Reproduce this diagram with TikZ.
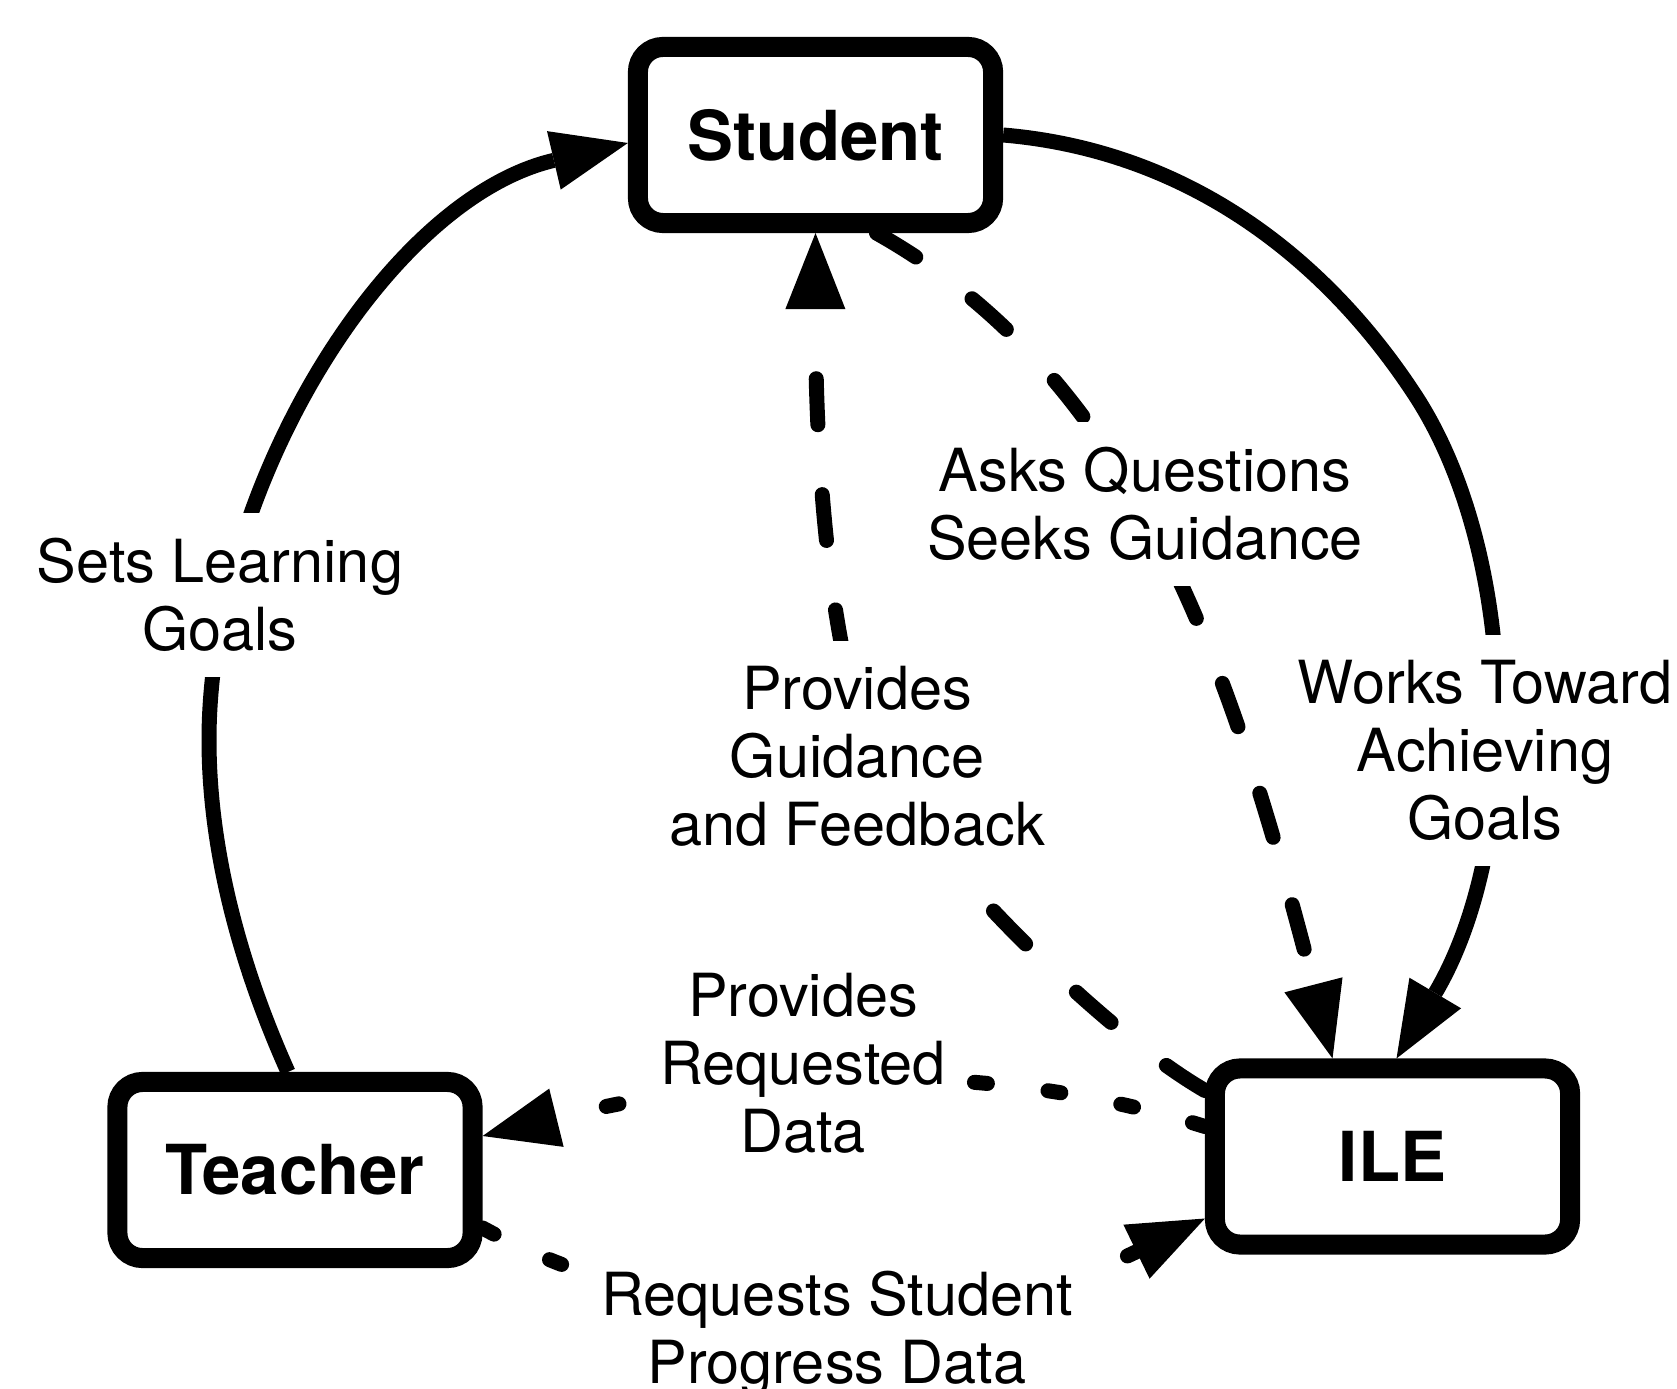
\documentclass[tikz,border=0pt]{standalone}
\usepackage{fontspec}
\setmainfont{TeX Gyre Heros}
\usetikzlibrary{arrows.meta,calc}
\begin{document}
\begin{tikzpicture}[x=0.01cm,y=-0.01cm,
  box/.style={draw, line width=0.2cm, rounded corners=0.25cm, minimum width=3.55cm, minimum height=1.76cm, inner sep=0pt, outer sep=0.1cm, fill=white, font=\bfseries\fontsize{19.6}{22}\selectfont},
  lbl/.style={fill=white, align=center, inner xsep=0.08cm, inner ysep=0.25cm, font=\fontsize{16.9}{19.35}\selectfont},
  tipstyle/.style={-{Triangle[length=0.76cm,width=0.6cm,line width=0pt]}},
  conn/.style={line width=0.15cm, tipstyle},
  dashconn/.style={conn, line cap=round, dash pattern=on 0.46cm off 0.70cm},
  dotconn/.style={conn, line cap=round, dash pattern=on 0.13cm off 0.61cm}]
\useasboundingbox (0,0) rectangle (1677,1389);

% boxes
\node[box] (student) at (815.5,135) {Student};
\node[box] (teacher) at (295,1170) {Teacher};
\node[box] (ile) at (1392.5,1156.5) {ILE};

% Teacher -> Student (Sets Learning Goals)
\draw[conn] ($(teacher.north)+(-7,0)$) .. controls (240,965) and (209,850) .. (209,740)
  .. controls (209,490) and (385,200) .. ($(student.west)+(0,8)$);

% Student -> ILE (Works Toward Achieving Goals)
\draw[conn] (student.east) .. controls (1180,150) and (1320,250) .. (1415,395)
  .. controls (1519,554) and (1524,843) .. ($(ile.north)+(4,0)$);

% ILE -> Student (Provides Guidance and Feedback)
\draw[dashconn] ($(ile.west)+(0,-66)$) .. controls (1094,1026) and (931,856) .. (880,770)
  .. controls (850,720) and (815,560) .. (student.south);

% Student -> ILE (Asks Questions Seeks Guidance)
\draw[dashconn] ($(student.south)+(61,0)$) .. controls (1138,380) and (1232,670) .. ($(ile.north)+(-60,0)$);

% ILE -> Teacher (Provides Requested Data)
\draw[dotconn] ($(ile.west)+(0,-30)$) .. controls (967,1052) and (725,1076) .. ($(teacher.east)+(0,-34)$);

% Teacher -> ILE (Requests Student Progress Data)
\draw[dotconn] ($(teacher.east)+(0,58)$) .. controls (702,1348) and (981,1327) .. ($(ile.west)+(0,62)$);

% labels
\node[lbl] (lsets) at (220,595) {Sets Learning\\Goals};
\node[lbl] (lasks) at (1145,504) {Asks Questions\\Seeks Guidance};
\node[lbl] (lguid) at (857,756.5) {Provides\\Guidance\\and Feedback};
\node[lbl] (lworks) at (1485,750.5) {Works Toward\\Achieving\\Goals};
\node[lbl] (ldata) at (803,1063.5) {Provides\\Requested\\Data};
\node[lbl, inner xsep=0.3cm] (lreq) at (837,1334) {Requests Student\\Progress Data};
\end{tikzpicture}
\end{document}
